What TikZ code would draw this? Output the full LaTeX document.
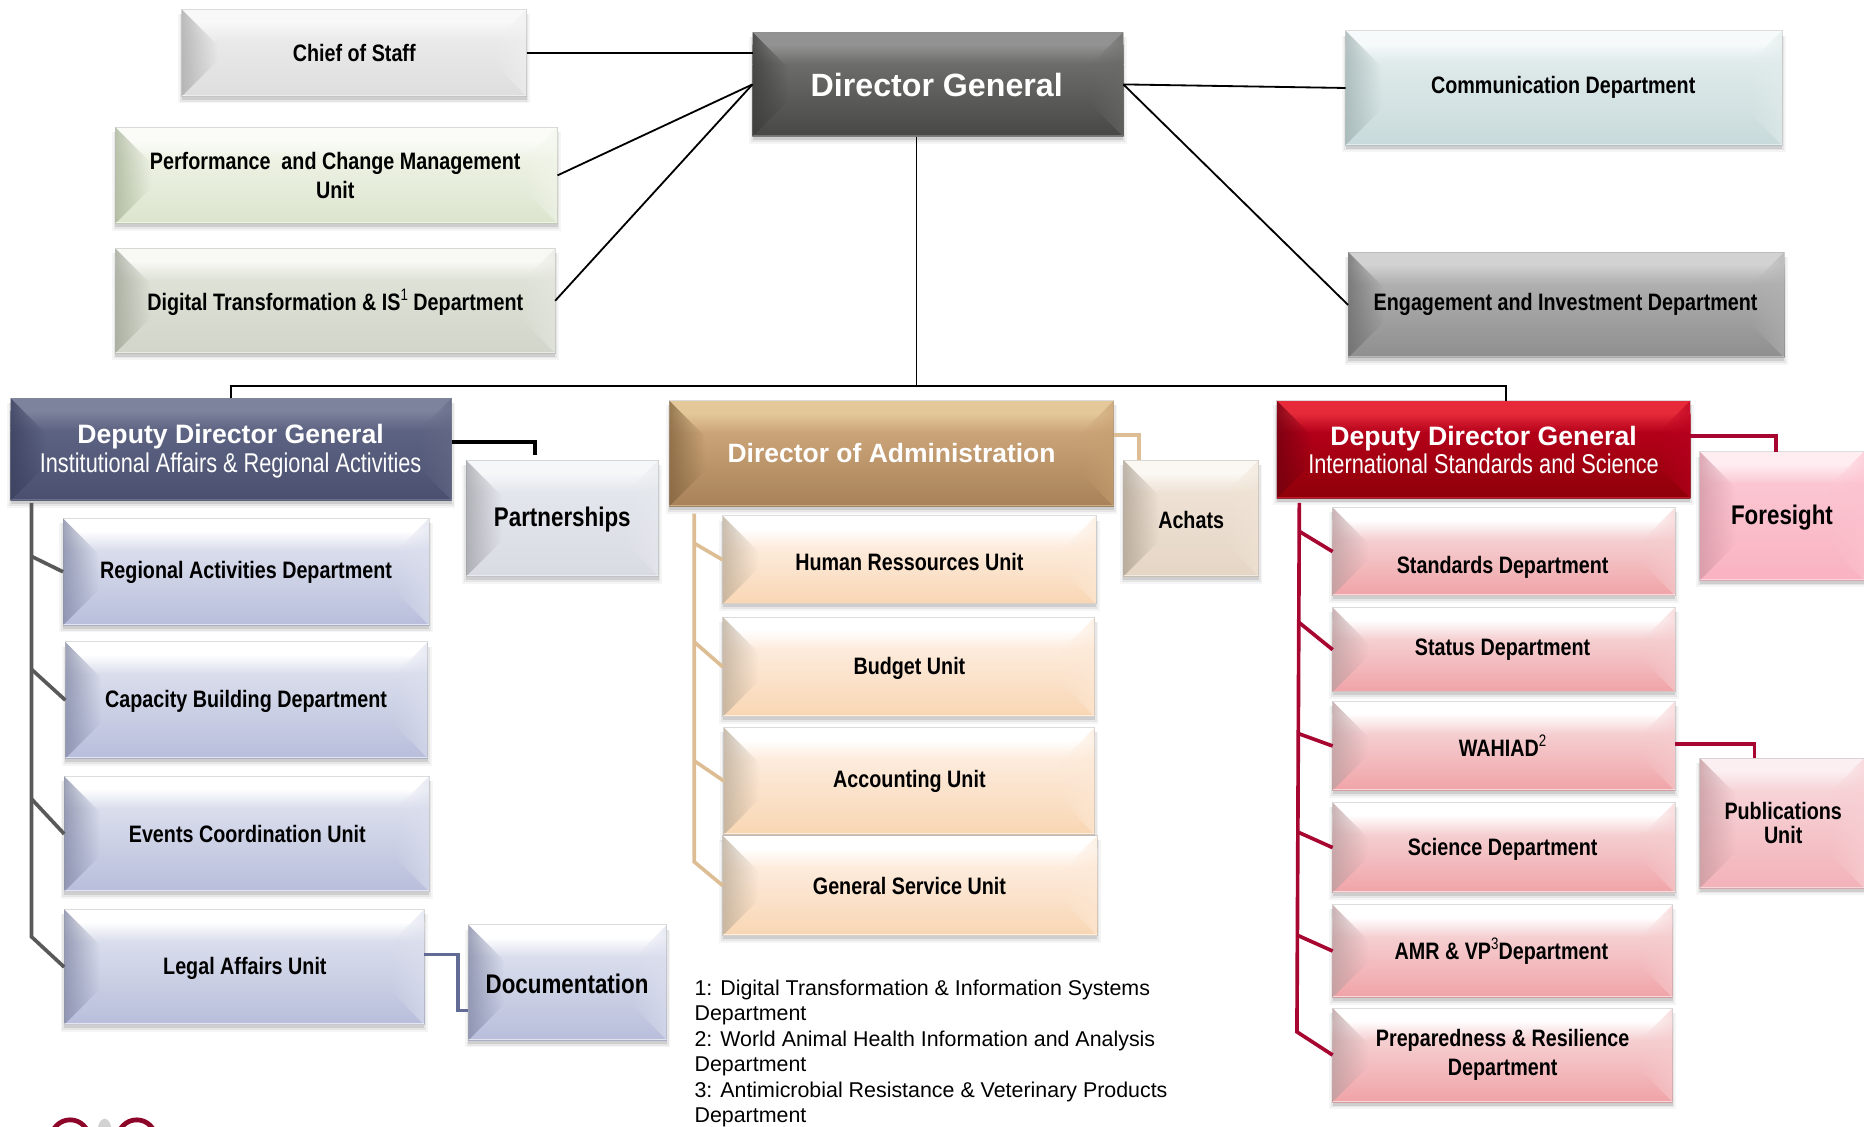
\documentclass[tikz,border=0pt]{standalone}
\usepackage{fontspec}
\setmainfont{Liberation Sans}
\newfontfamily\nb[FakeStretch=0.83]{Liberation Sans Bold}
\newfontfamily\nr[FakeStretch=0.80]{Liberation Sans}
\newfontfamily\wb{Liberation Sans Bold}
\usetikzlibrary{fadings}
% palettes: top of bevel, face top, face bottom, left bevel, right bevel
\newcommand\pal[6]{%
  \definecolor{#1T}{HTML}{#2}\definecolor{#1F}{HTML}{#3}\definecolor{#1B}{HTML}{#4}%
  \definecolor{#1L}{HTML}{#5}\definecolor{#1R}{HTML}{#6}}
\pal{chief}{F8F8F8}{E9E9EA}{DEDEDE}{ACACAC}{F0F0F0}
\pal{perf}{FBFCF8}{EDF2E4}{DBE4CD}{AAB69A}{F2F6EC}
\pal{digi}{F8F9F5}{DEE1D6}{D2D6CA}{A2A799}{E6E8E0}
\pal{dg}{929292}{6C6D6B}{474846}{3E3F3D}{6A6B67}
\pal{comm}{F6FAFA}{DFEAEA}{C8DADB}{A3B4B5}{E2ECEC}
\pal{eng}{D2D2D2}{AFAFAF}{8E8E8E}{6E6E6E}{B2B2B2}
\pal{ddgl}{7E839D}{5D6382}{4A4F6F}{3C4160}{656A87}
\pal{adm}{E4C89A}{CBA478}{A78158}{84663F}{C69E70}
\pal{ddgr}{E62A3A}{B30019}{8E0008}{730010}{B80020}
\pal{lav}{FFFFFF}{D9DDEC}{B8BEDB}{868CA9}{DCDFEE}
\pal{part}{F6F7F9}{E3E6EC}{D9DBE2}{A3A5AB}{E6E9EE}
\pal{peach}{FFFFFF}{FDEBDC}{F8D6B3}{BFAF9B}{FDE9D6}
\pal{ach}{FBF8F3}{EEE2D5}{E5D5C5}{AFA394}{F0E4D6}
\pal{pink}{FFFFFF}{F5CFD1}{F0A3A7}{BFA0A2}{F6CCCE}
\pal{fore}{FFEDF2}{FBC6D2}{F9B2C1}{D599A7}{FCC2CF}
\pal{publ}{FBEFF1}{F6D3D7}{F2B2B8}{C99CA2}{F8D0D4}
\tikzset{
  x=0.75pt, y=-0.75pt,
  boxnode/.style={draw=none, inner sep=0pt, outer sep=0pt},
  lab/.style={align=center, text=black, inner sep=0pt, yshift=-.3pt},
  thinline/.style={black, line width=1.15pt},
  link/.style={line width=2.3pt, line join=miter},
  linkk/.style={link, black},
  tan/.style={link, color=tanline},
  crim/.style={link, color=crimline},
  grey/.style={link, color=greyline},
  slate/.style={link, color=slateline},
}
\definecolor{tanline}{HTML}{DDBE94}
\definecolor{crimline}{HTML}{A6062F}
\definecolor{greyline}{HTML}{595959}
\definecolor{slateline}{HTML}{616B96}
% name, x0, y0, x1, y1, palette, bevel
\newcommand\bbox[7]{%
  \foreach \s/\o in {4/.04,2.5/.06,1/.10}{%
    \fill[black,opacity=\o] (#2-\s+1,#3+4) rectangle (#4+\s-1,#5+2+\s);}
  \fill[#6T] (#2,#3) rectangle (#4,#3+#7*0.35);
  \shade[top color=#6T, bottom color=#6F] (#2,#3+#7*0.35) rectangle (#4,#3+#7*0.9);
  \shade[top color=#6F, bottom color=#6B] (#2,#3+#7*0.9) rectangle (#4,#5);
  \fill[#6L, fill opacity=.8, path fading=east] (#2,#3) -- (#2+#7,#3+#7) -- (#2+#7,#5-#7) -- (#2,#5) -- cycle;
  \fill[#6R, fill opacity=.65, path fading=west] (#4,#3) -- (#4-#7,#3+#7) -- (#4-#7,#5-#7) -- (#4,#5) -- cycle;
  \draw[#6T, opacity=.6, line width=.8pt] (#2,#5-.6) -- (#4,#5-.6);
  \draw[black!45, opacity=.3, line width=.6pt] (#2,#3) rectangle (#4,#5);
  \pgfmathsetmacro\bw{(#4-#2)*.75}\pgfmathsetmacro\bh{(#5-#3)*.75}%
  \node[boxnode, minimum width=\bw pt, minimum height=\bh pt] (#1) at ({(#2+#4)/2},{(#3+#5)/2}) {};%
}
\newcommand\nbt[2]{{\nb\fontsize{#1}{#1}\selectfont #2}}
\newcommand\up[1]{\raisebox{.42em}{\nr\fontsize{10.5}{10.5}\selectfont #1}}
\begin{document}
\begin{tikzpicture}
\useasboundingbox (0,0) rectangle (1568,947.2);
\clip (0,0) rectangle (1568,947.2);
\fill[white] (0,0) rectangle (1568,947.2);
% logo fragment
\draw[color=crimline!85!black, line width=3pt] (59,958) circle (16);
\draw[color=crimline!85!black, line width=3pt] (115,958) circle (16);
\fill[gray!35] (88,952) ellipse (6 and 11);
% boxes
\bbox{chief}{153}{8}{443}{81}{chief}{30}
\bbox{perf}{97}{107}{469}{188}{perf}{30}
\bbox{digi}{97}{209}{467}{297}{digi}{30}
\bbox{dg}{633}{27}{945}{115}{dg}{30}
\bbox{comm}{1132}{26}{1499}{122}{comm}{30}
\bbox{eng}{1134}{212}{1501}{301}{eng}{30}
\bbox{ddgl}{9}{335}{380}{421}{ddgl}{30}
\bbox{adm}{563}{337}{937}{426}{adm}{30}
\bbox{ddgr}{1074}{337}{1422}{419}{ddgr}{30}
\bbox{part}{392}{387}{554}{485}{part}{30}
\bbox{ach}{945}{387}{1059}{485}{ach}{30}
\bbox{fore}{1430}{380}{1568}{488}{fore}{30}
\bbox{publ}{1430}{638}{1568}{747}{publ}{30}
\bbox{reg}{53}{436}{361}{526}{lav}{30}
\bbox{cap}{55}{540}{360}{638}{lav}{30}
\bbox{evt}{54}{653}{361}{750}{lav}{30}
\bbox{leg}{54}{765}{357}{862}{lav}{30}
\bbox{doc}{394}{778}{561}{875}{lav}{30}
\bbox{hr}{608}{434}{922}{508}{peach}{30}
\bbox{bud}{608}{519}{921}{603}{peach}{30}
\bbox{acc}{609}{612}{921}{702}{peach}{30}
\bbox{gen}{608}{703}{923}{787}{peach}{30}
\bbox{std}{1121}{427}{1409}{501}{pink}{30}
\bbox{sta}{1121}{511}{1409}{582}{pink}{30}
\bbox{wah}{1121}{590}{1409}{665}{pink}{30}
\bbox{sci}{1121}{675}{1409}{751}{pink}{30}
\bbox{amr}{1121}{761}{1407}{839}{pink}{30}
\bbox{pre}{1121}{848}{1407}{927}{pink}{30}
% labels
\node[lab] (tchief) at (298,44) {\nbt{15}{Chief of Staff}};
\node[lab] (tperf) at (282,147) {\nbt{15}{Performance\ \ and Change Management}\\[3.5pt]\nbt{15}{Unit}};
\node[lab] (tdigi) at (282,254) {\nbt{15}{Digital Transformation \& IS\up{1} Department}};
\node[lab,text=white] (tdg) at (788,71) {{\wb\fontsize{20.3}{20.3}\selectfont Director General}};
\node[lab] (tcomm) at (1315,73) {\nbt{15}{Communication Department}};
\node[lab] (teng) at (1317,256) {\nbt{15}{Engagement and Investment Department}};
\node[lab,text=white] (tddgl) at (194,379) {{\wb\fontsize{16.8}{20}\selectfont Deputy Director General}\\[1.5pt]{\nr\fontsize{17.15}{19}\selectfont Institutional Affairs \& Regional Activities}};
\node[lab,text=white] (tadm) at (750,381) {{\wb\fontsize{16.7}{20}\selectfont Director of Administration}};
\node[lab,text=white] (tddgr) at (1248,378) {{\wb\fontsize{16.8}{20}\selectfont Deputy Director General}\\[1pt]{\nr\fontsize{17.15}{19}\selectfont International Standards and Science}};
\node[lab] (tpart) at (473,437) {\nbt{17}{Partnerships}};
\node[lab] (tach) at (1002,437) {\nbt{15}{Achats}};
\node[lab] (tfore) at (1499,435) {\nbt{17}{Foresight}};
\node[lab] (tpubl) at (1500,692) {\nbt{15}{Publications}\\[3.5pt]\nbt{15}{Unit}};
\node[lab] (treg) at (207,481) {\nbt{15}{Regional Activities Department}};
\node[lab] (tcap) at (207,590) {\nbt{15}{Capacity Building Department}};
\node[lab] (tevt) at (208,701) {\nbt{15}{Events Coordination Unit}};
\node[lab] (tleg) at (206,814) {\nbt{15}{Legal Affairs Unit}};
\node[lab] (tdoc) at (477,827) {\nbt{17}{Documentation}};
\node[lab] (thr) at (765,472) {\nbt{15}{Human Ressources Unit}};
\node[lab] (tbud) at (765,562) {\nbt{15}{Budget Unit}};
\node[lab] (tacc) at (765,657) {\nbt{15}{Accounting Unit}};
\node[lab] (tgen) at (765,745) {\nbt{15}{General Service Unit}};
\node[lab] (tstd) at (1264,477) {\nbt{15}{Standards Department}};
\node[lab] (tsta) at (1264,546) {\nbt{15}{Status Department}};
\node[lab] (twah) at (1264,627) {\nbt{15}{WAHIAD\up{2}}};
\node[lab] (tsci) at (1264,714) {\nbt{15}{Science Department}};
\node[lab] (tamr) at (1263,800) {\nbt{15}{AMR \& VP\up{3}Department}};
\node[lab] (tpre) at (1264,887) {\nbt{15}{Preparedness \& Resilience}\\[3.5pt]\nbt{15}{Department}};
\node[anchor=north west, align=left, inner sep=0pt, text=black, font=\fontsize{13.5}{16.05}\selectfont] (notes) at (584,824)
 {1: Digital Transformation \& Information Systems\\Department\\2: World Animal Health Information and Analysis\\Department\\3: Antimicrobial Resistance \& Veterinary Products\\Department};
% thin connectors
\coordinate (bus) at (771,325);
\coordinate (busR) at (1267,325);
\draw[thinline] (chief.east) -- (chief.east -| dg.west);
\draw[thinline] (perf.east) -- (dg.west);
\draw[thinline] (digi.east) -- (dg.west);
\draw[thinline] (dg.east) -- (comm.west);
\draw[thinline] (dg.east) -- (eng.west);
\draw[thinline] (bus |- dg.south) -- (bus);
\draw[thinline] (ddgl.north) |- (busR) -- (busR |- ddgr.north);
% side links
\coordinate (pj) at (450,372);
\draw[linkk] (pj -| ddgl.east) -- (pj) -- ([yshift=3pt]pj |- part.north);
\coordinate (aj) at (958,366);
\draw[tan] (aj -| adm.east) -- (aj) -- (aj |- ach.north);
\coordinate (fj) at (1494,367);
\draw[crim] (fj -| ddgr.east) -- (fj) -- (fj |- fore.north);
\coordinate (wj) at (1476,626);
\draw[crim] (wj -| wah.east) -- (wj) -- (wj |- publ.north);
\coordinate (d1) at (385,803);
\coordinate (d2) at (385,850);
\draw[slate] (d1 -| leg.east) -- (d1) -- (d2) -- (d2 -| doc.west);
% left trunk
\coordinate (l0) at (26.5,423); \coordinate (l1) at (26.5,468); \coordinate (l2) at (26.5,563);
\coordinate (l3) at (26.5,672); \coordinate (l4) at (26.5,788);
\draw[grey] (l0) -- (l4) -- (leg.west);
\draw[grey] (l1) -- (reg.west);
\draw[grey] (l2) -- (cap.west);
\draw[grey] (l3) -- (evt.west);
% middle trunk
\coordinate (m0) at (584,432); \coordinate (m1) at (584,457); \coordinate (m2) at (584,540);
\coordinate (m3) at (584,640); \coordinate (m4) at (584,725);
\draw[tan] (m0) -- (m4) -- (gen.west);
\draw[tan] (m1) -- (hr.west);
\draw[tan] (m2) -- (bud.west);
\draw[tan] (m3) -- (acc.west);
% right trunk
\coordinate (r0) at (1093,423); \coordinate (r1) at (1093,447); \coordinate (r2) at (1092,523);
\coordinate (r3) at (1092,617); \coordinate (r4) at (1092,700); \coordinate (r5) at (1092,787);
\coordinate (r6) at (1091,868);
\draw[crim] (r0) -- (r6) -- (pre.west);
\draw[crim] (r1) -- (std.west);
\draw[crim] (r2) -- (sta.west);
\draw[crim] (r3) -- (wah.west);
\draw[crim] (r4) -- (sci.west);
\draw[crim] (r5) -- (amr.west);
\end{tikzpicture}
\end{document}
